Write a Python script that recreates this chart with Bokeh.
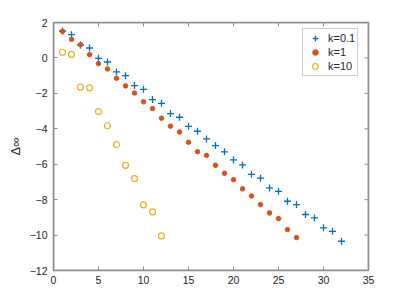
from bokeh.plotting import figure
from bokeh.models import Range1d, LinearAxis, Legend, LegendItem, FixedTicker, BoxAnnotation
from bokeh.embed import file_html
from bokeh.resources import INLINE

# ---- data ----
n_k01 = list(range(1, 33))
delta_k01 = [1.52, 1.31, 0.73, 0.56, -0.02, -0.23, -0.79, -1.00, -1.56, -1.77,
             -2.35, -2.56, -3.14, -3.35, -3.86, -4.14, -4.57, -4.95, -5.30, -5.76,
             -6.04, -6.57, -6.79, -7.34, -7.53, -8.09, -8.28, -8.84, -9.03, -9.59,
             -9.79, -10.35]
n_k1 = list(range(1, 28))
delta_k1 = [1.50, 1.05, 0.75, 0.19, -0.32, -0.62, -1.15, -1.58, -1.98, -2.48,
            -2.86, -3.40, -3.85, -4.18, -4.76, -5.29, -5.50, -6.06, -6.51, -6.87,
            -7.39, -7.79, -8.28, -8.75, -9.07, -9.69, -10.14]
n_k10 = list(range(1, 13))
delta_k10 = [0.32, 0.20, -1.64, -1.69, -3.03, -3.83, -4.89, -6.06, -6.81, -8.30,
             -8.69, -10.05]
labels = ["k=0.1", "k=1", "k=10"]
x_ticks = [0, 5, 10, 15, 20, 25, 30, 35]
y_ticks = [2, 0, -2, -4, -6, -8, -10, -12]
y_label = "Δ∞"

FONT = "Liberation Sans"
AX = "#8c8c8c"
TXT = "#262626"
X0, X1, Y0, Y1 = 0, 35, -12, 2
FW, FH = 315, 248

p = figure(frame_width=FW, frame_height=FH, output_backend="svg", toolbar_location=None,
           x_range=Range1d(X0, X1), y_range=Range1d(Y0, Y1),
           min_border_left=53, min_border_right=23, min_border_top=22, min_border_bottom=19,
           x_axis_location=None, y_axis_location=None)
p.outline_line_color = AX
p.outline_line_width = 1.5
p.xgrid.visible = False
p.ygrid.visible = False
p.background_fill_color = "white"
p.border_fill_color = "white"

def style(ax):
    ax.axis_line_color = AX
    ax.axis_line_width = 1
    ax.major_tick_line_color = AX
    ax.major_tick_in = 4
    ax.major_tick_out = 0
    ax.minor_tick_line_color = None
    ax.major_label_text_font = FONT
    ax.major_label_text_font_size = "10.5px"
    ax.major_label_text_color = TXT

xb = LinearAxis(ticker=FixedTicker(ticks=x_ticks))
style(xb)
xb.major_label_standoff = 5
p.add_layout(xb, "below")
yl = LinearAxis(ticker=FixedTicker(ticks=y_ticks), axis_label=y_label)
style(yl)
yl.major_label_standoff = 6
yl.axis_label_standoff = 4
yl.axis_label_text_font = FONT
yl.axis_label_text_font_style = "normal"
yl.axis_label_text_font_size = "13px"
yl.axis_label_text_color = TXT
p.add_layout(yl, "left")

# box around the axes (MATLAB "box on") with inward ticks on top and right
p.add_layout(BoxAnnotation(left=X0, right=X1, bottom=Y0, top=Y1, fill_alpha=0,
                           line_color=AX, line_width=1.5, line_alpha=1, level="overlay"))
tx = (X1 - X0) * 4 / FW
ty = (Y1 - Y0) * 4 / FH
p.segment(x0=x_ticks, x1=x_ticks, y0=[Y1] * len(x_ticks), y1=[Y1 - ty] * len(x_ticks),
          line_color=AX, line_width=1)
p.segment(x0=[X1] * len(y_ticks), x1=[X1 - tx] * len(y_ticks), y0=y_ticks, y1=y_ticks,
          line_color=AX, line_width=1)

r1 = p.scatter(n_k01, delta_k01, marker="cross", size=7, line_color="#0072BD", line_width=1.3)
r2 = p.scatter(n_k1, delta_k1, marker="circle", size=4.5, fill_color="#D95319", line_color="#D95319")
r3 = p.scatter(n_k10, delta_k10, marker="circle", size=6, fill_color=None, line_color="#EDB120", line_width=1.2)

legend = Legend(items=[LegendItem(label=labels[0], renderers=[r1]),
                       LegendItem(label=labels[1], renderers=[r2]),
                       LegendItem(label=labels[2], renderers=[r3])],
                location=(249, 194))
legend.border_line_color = "#a0a0a0"
legend.border_line_width = 1
legend.background_fill_color = "white"
legend.background_fill_alpha = 1
legend.label_text_font = FONT
legend.label_text_font_size = "11px"
legend.label_text_color = TXT
legend.glyph_width = 20
legend.glyph_height = 14
legend.label_height = 14
legend.label_standoff = 3
legend.spacing = 0
legend.padding = 2
legend.margin = 0
p.add_layout(legend, "center")

open("out.html", "w").write(file_html(p, INLINE))
